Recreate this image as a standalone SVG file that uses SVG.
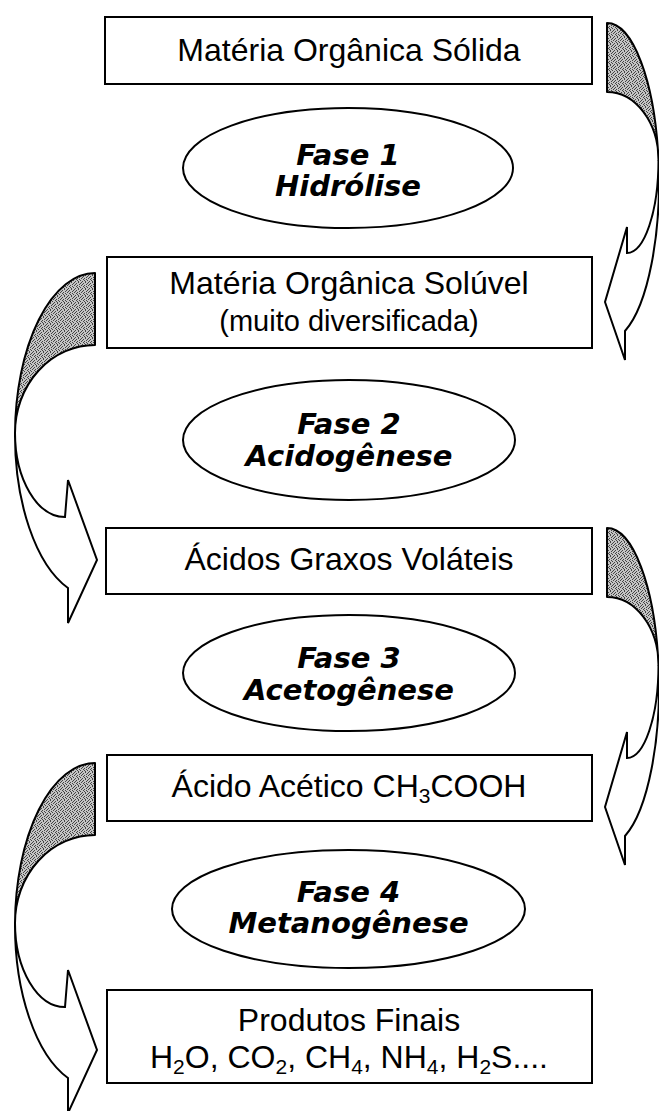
<svg xmlns="http://www.w3.org/2000/svg" width="659" height="1111" viewBox="0 0 659 1111">
<style>
.box{fill:#fff;stroke:#000;stroke-width:2}
.ell{fill:#fff;stroke:#000;stroke-width:2}
.bt{font-family:"Liberation Sans",Arial,sans-serif;font-size:32px;fill:#000;text-anchor:middle}
.et{font-family:"DejaVu Sans",Verdana,sans-serif;font-size:29px;font-weight:bold;font-style:italic;fill:#000;text-anchor:middle}
.back{fill:url(#stip);stroke:#000;stroke-width:2;stroke-linejoin:round}
.front{fill:#fff;stroke:#000;stroke-width:2;stroke-linejoin:miter}
.sub{font-size:21px}
</style>
<defs>
<pattern id="stip" width="7" height="7" patternUnits="userSpaceOnUse">
<rect width="7" height="7" fill="#c4c4c4"/>
<path d="M0 0h1v1H0zM3 0h1v1H3zM5 1h1v1H5zM1 2h1v1H1zM4 2h1v1H4zM6 3h1v1H6zM2 4h1v1H2zM0 5h1v1H0zM4 5h1v1H4zM6 6h1v1H6zM2 6h1v1H2zM3 3h1v1H3zM5 4h1v1H5zM1 1h1v1H1z" fill="#444"/>
</pattern>
<g id="rarrow">
<path class="back" d="M607,23 A52,159 0 0 1 658.5,160 A51.5,68 0 0 0 607,92 Z"/>
<path class="front" d="M658.5,160 A52,159 0 0 1 625,331 L625,360 L605,302 L627,227 L627,253 A31.5,93 0 0 0 658.5,160 Z"/>
</g>
<g id="larrow">
<path class="back" d="M95,273 A80,162 0 0 0 15,433 A80,88 0 0 1 95,345 Z"/>
<path class="front" d="M15,433 A80,162 0 0 0 68,588 L68,623 L97,560 L68,480 L65,517 A50,84 0 0 1 15,433 Z"/>
</g>
</defs>

<g id="connectors">
<use href="#rarrow"/>
<use href="#larrow"/>
<use href="#rarrow" transform="translate(0,505)"/>
<use href="#larrow" transform="translate(0,490)"/>
</g>

<g id="box1">
<rect class="box" x="105" y="17" width="487" height="67"/>
<text class="bt" x="349" y="61">Matéria Orgânica Sólida</text>
</g>
<g id="phase1">
<ellipse class="ell" cx="348" cy="168" rx="165" ry="60"/>
<text class="et" x="348" y="165">Fase 1</text>
<text class="et" x="348" y="196">Hidrólise</text>
</g>
<g id="box2">
<rect class="box" x="107" y="257" width="485" height="91"/>
<text class="bt" x="349" y="294">Matéria Orgânica Solúvel</text>
<text class="bt" x="349" y="331" style="font-size:29px">(muito diversificada)</text>
</g>
<g id="phase2">
<ellipse class="ell" cx="349" cy="440" rx="166" ry="60"/>
<text class="et" x="349" y="434">Fase 2</text>
<text class="et" x="349" y="466">Acidogênese</text>
</g>
<g id="box3">
<rect class="box" x="106" y="528" width="486" height="66"/>
<text class="bt" x="349" y="570">Ácidos Graxos Voláteis</text>
</g>
<g id="phase3">
<ellipse class="ell" cx="349" cy="673" rx="166" ry="58"/>
<text class="et" x="349" y="668">Fase 3</text>
<text class="et" x="349" y="700">Acetogênese</text>
</g>
<g id="box4">
<rect class="box" x="107" y="755" width="485" height="66"/>
<text class="bt" x="349" y="797">Ácido Acético CH<tspan class="sub" dy="6">3</tspan><tspan dy="-6">COOH</tspan></text>
</g>
<g id="phase4">
<ellipse class="ell" cx="348.5" cy="909" rx="176.5" ry="59"/>
<text class="et" x="348.5" y="902">Fase 4</text>
<text class="et" x="348.5" y="933">Metanogênese</text>
</g>
<g id="box5">
<rect class="box" x="107" y="990" width="485" height="93"/>
<text class="bt" x="349" y="1031">Produtos Finais</text>
<text class="bt" x="349" y="1068">H<tspan class="sub" dy="6">2</tspan><tspan dy="-6">O, CO</tspan><tspan class="sub" dy="6">2</tspan><tspan dy="-6">, CH</tspan><tspan class="sub" dy="6">4</tspan><tspan dy="-6">, NH</tspan><tspan class="sub" dy="6">4</tspan><tspan dy="-6">, H</tspan><tspan class="sub" dy="6">2</tspan><tspan dy="-6">S....</tspan></text>
</g>
</svg>
